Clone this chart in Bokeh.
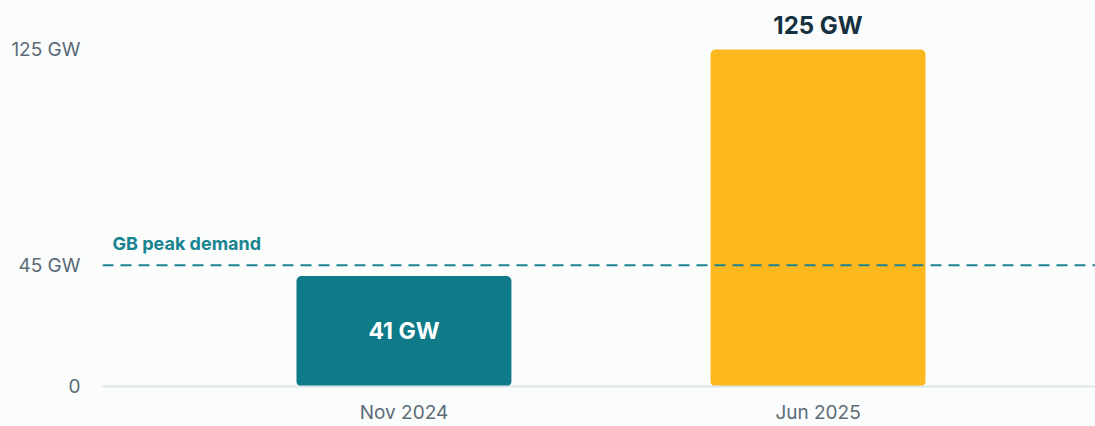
from bokeh.plotting import figure
from bokeh.models import ColumnDataSource, Span, FixedTicker, Label
from bokeh.core.properties import value
from bokeh.embed import file_html
from bokeh.resources import INLINE

categories = ["Nov 2024", "Jun 2025"]
capacity_gw = [41, 125]
bar_colors = ["#0f7b89", "#fdb81e"]
peak_demand_gw = 45
y_ticks = [0, 45, 125]
y_tick_labels = {0: "0", 45: "45 GW", 125: "125 GW"}

xs = list(range(len(categories)))
src = ColumnDataSource(dict(x=xs, top=capacity_gw, color=bar_colors,
                            label=[f"{v} GW" for v in capacity_gw],
                            mid=[v / 2 for v in capacity_gw]))

p = figure(width=1095, height=426, output_backend="svg", toolbar_location=None,
           x_range=(-0.728, 1.67), y_range=(0, 143.2),
           min_border_left=102, min_border_right=0, min_border_top=0, min_border_bottom=0,
           background_fill_color="#fbfcfc", border_fill_color="#fbfcfc")
p.outline_line_color = None
p.grid.visible = False

p.vbar(x="x", top="top", bottom=0, width=0.519, color="color", source=src,
       line_color=None, border_radius=5)

p.add_layout(Span(location=peak_demand_gw, dimension="width", line_color="#1a8390",
                  line_width=2, line_dash="11 7"))
p.add_layout(Label(x=0, y=peak_demand_gw, x_units="screen", x_offset=10, y_offset=11,
                   text="GB peak demand", text_color="#188490", text_font="Inter",
                   text_font_size="18px", text_font_style="bold"))

# inside label for first bar
p.text(x=[xs[0]], y=[src.data["mid"][0]], text=[src.data["label"][0]],
       text_color="white", text_font=value("Inter"), text_font_size="23px",
       text_font_style="bold", text_align="center", text_baseline="middle")
# label above second bar
p.text(x=[xs[1]], y=[capacity_gw[1]], text=[src.data["label"][1]],
       text_color="#15303f", text_font=value("Inter"), text_font_size="24px",
       text_font_style="bold", text_align="center", text_baseline="alphabetic",
       y_offset=-24)

p.yaxis.ticker = FixedTicker(ticks=y_ticks)
p.yaxis.major_label_overrides = y_tick_labels
p.yaxis.axis_line_color = None
p.yaxis.major_tick_line_color = None
p.yaxis.minor_tick_line_color = None
p.yaxis.major_label_standoff = 16
p.yaxis.major_label_text_font = "Inter"
p.yaxis.major_label_text_font_size = "19px"
p.yaxis.major_label_text_color = "#5b6b77"

p.xaxis.ticker = FixedTicker(ticks=xs)
p.xaxis.major_label_overrides = {i: c for i, c in zip(xs, categories)}
p.xaxis.axis_line_color = "#dde5ea"
p.xaxis.axis_line_width = 2
p.xaxis.major_tick_line_color = None
p.xaxis.minor_tick_line_color = None
p.xaxis.major_label_standoff = 8
p.xaxis.major_label_text_font = "Inter"
p.xaxis.major_label_text_font_size = "19px"
p.xaxis.major_label_text_color = "#5b6b77"

open("out.html", "w").write(file_html(p, INLINE))
